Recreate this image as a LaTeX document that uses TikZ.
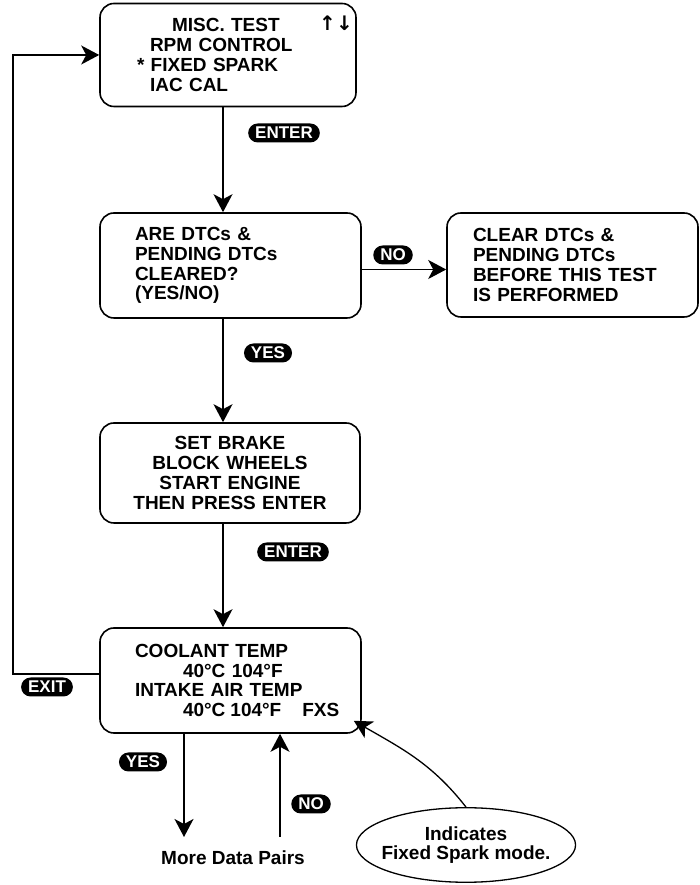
\documentclass[tikz,border=0pt]{standalone}
\usepackage{fontspec}
\setmainfont{Liberation Sans}
\newfontfamily\arrowfont{DejaVu Sans}
\usetikzlibrary{calc}
\usetikzlibrary{arrows.meta}
\usetikzlibrary{shapes.geometric}

\tikzset{
  screen/.style={draw,line width=1.6pt,rounded corners=14pt,inner ysep=0pt,
    font=\fontsize{19}{19.7}\selectfont\bfseries},
  keycap/.style={fill=black,text=white,rounded corners=9.5pt,inner xsep=7pt,inner ysep=0pt,
    minimum height=19pt,font=\fontsize{17}{17}\selectfont\bfseries},
  flow/.style={line width=1.6pt,-{Stealth[length=18pt,width=19pt,inset=5pt]}},
}

\begin{document}
\begin{tikzpicture}[x=1pt,y=1pt]
  % Boundary
  \path[use as bounding box] (0,0) rectangle (699,885);
  % Screens
  \node[screen,minimum width=256pt,minimum height=103pt,text width=182pt,align=left] (misc) at (228,830)
    {\hspace*{35pt}MISC. TEST\\\hspace*{13pt}RPM CONTROL\\{*} FIXED SPARK\\\hspace*{13pt}IAC CAL};
  \node[font=\arrowfont\bfseries\fontsize{20}{20}\selectfont,inner sep=0pt] (scroll) at (336,862) {↑↓};
  \node[screen,minimum width=261pt,minimum height=105pt,text width=191pt,align=left] (ask) at (230.5,619.5)
    {ARE DTCs \&\\PENDING DTCs\\CLEARED?\\(YES/NO)};
  \node[screen,minimum width=251pt,minimum height=104pt,text width=199pt,align=left] (warn) at (572.5,620)
    {CLEAR DTCs \&\\PENDING DTCs\\BEFORE THIS TEST\\IS PERFORMED};
  \node[screen,minimum width=260pt,minimum height=100pt,text width=240pt,align=center] (start) at (230,412)
    {SET BRAKE\\BLOCK WHEELS\\START ENGINE\\THEN PRESS ENTER};
  \node[screen,minimum width=261pt,minimum height=105pt,text width=191pt,align=left] (data) at (230.5,204.5)
    {COOLANT TEMP\\\hspace*{48pt}40°C 104°F\\INTAKE AIR TEMP\\\hspace*{48pt}40°C\kern5pt104°F\kern21pt FXS};
  % Keys
  \node[keycap] (enterA) at (284,752) {ENTER};
  \node[keycap] (noA) at (393,630) {NO};
  \node[keycap] (yesA) at (268,532) {YES};
  \node[keycap] (enterB) at (293,333) {ENTER};
  \node[keycap] (exit) at (47,198) {EXIT};
  \node[keycap] (yesB) at (143,123) {YES};
  \node[keycap] (noB) at (311,81) {NO};
  % Bottom texts
  \node[font=\fontsize{19}{19}\selectfont\bfseries,anchor=base] (pairs) at (233,20) {More Data Pairs};
  \node[draw,ellipse,line width=1.3pt,inner xsep=-7pt,inner ysep=8pt,align=center,
    font=\fontsize{19}{19}\selectfont\bfseries] (note) at (466,40) {Indicates\\Fixed Spark mode.};
  \coordinate (yesend) at (184,48);
  \coordinate (nostart) at (280,48);
  % Connectors
  \draw[flow] ([xshift=-5pt]misc.south) -- ([xshift=-7.5pt]ask.north);
  \draw[flow] ([yshift=-4pt]ask.east) -- ([yshift=-4pt]ask.east -| warn.west);
  \draw[flow] ([xshift=-7.5pt]ask.south) -- ([xshift=-7pt]start.north);
  \draw[flow] ([xshift=-7pt]start.south) -- ([xshift=-7.5pt]data.north);
  \draw[flow] ([yshift=6.5pt]data.west) -- ++(-86pt,0) |- (misc.west);
  \draw[flow] (data.south -| yesend) -- (yesend);
  \draw[flow] (nostart) -- (nostart |- data.south);
  \draw[flow,line width=1.3pt] (note.north) to[out=128,in=-30] ([shift={(-8pt,13pt)}]data.south east);
\end{tikzpicture}
\end{document}
